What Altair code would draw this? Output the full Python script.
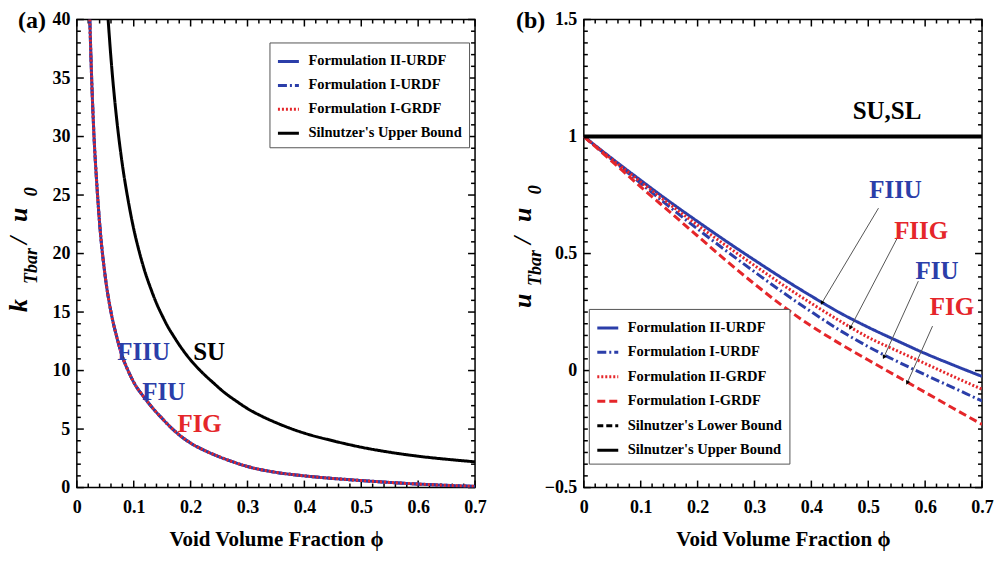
import altair as alt
import pandas as pd

FONT = "Liberation Serif"
BLUE = "#2b3ea9"
RED = "#e5262a"
BLACK = "#000000"
W, H = 399, 469

# ---------------- panel (a) data ----------------
phi_a_form = [0.0228, 0.026, 0.03, 0.035, 0.04, 0.05, 0.06, 0.07, 0.08, 0.09, 0.1, 0.12,
              0.15, 0.18, 0.2, 0.23, 0.26, 0.3, 0.35, 0.4, 0.45, 0.5, 0.55, 0.6, 0.65, 0.7]
k_fiiu = [40, 35, 30.2, 26, 22.6, 18.0, 15.0, 12.9, 11.2, 10.0, 9.0, 7.6,
          5.9, 4.5, 3.8, 3.05, 2.45, 1.8, 1.3, 1.0, 0.78, 0.6, 0.44, 0.3, 0.19, 0.1]
k_fiu = [40, 35, 30.2, 26, 22.6, 18.0, 15.0, 12.9, 11.2, 10.0, 9.0, 7.6,
         5.9, 4.5, 3.8, 3.05, 2.45, 1.8, 1.3, 1.0, 0.78, 0.6, 0.44, 0.3, 0.19, 0.1]
k_fig = [40, 35, 30.2, 26, 22.6, 18.0, 15.0, 12.9, 11.2, 10.0, 9.0, 7.6,
         5.9, 4.5, 3.8, 3.05, 2.45, 1.8, 1.3, 1.0, 0.78, 0.6, 0.44, 0.3, 0.19, 0.1]
phi_a_su = [0.055, 0.06, 0.065, 0.07, 0.08, 0.09, 0.1, 0.11, 0.12, 0.13, 0.14, 0.15, 0.16,
            0.17, 0.18, 0.2, 0.22, 0.24, 0.26, 0.28, 0.3, 0.325, 0.35, 0.4, 0.45, 0.5,
            0.55, 0.6, 0.65, 0.7]
k_su = [40, 36.7, 33.9, 31.5, 27.6, 24.6, 22.1, 20.1, 18.4, 17.0, 15.75, 14.7, 13.75,
        12.95, 12.2, 10.9, 9.85, 8.95, 8.1, 7.4, 6.75, 6.1, 5.55, 4.65, 4.0, 3.45,
        3.02, 2.68, 2.42, 2.2]

series_a = ["Formulation II-URDF", "Formulation I-URDF", "Formulation I-GRDF", "Silnutzer's Upper Bound"]

# ---------------- panel (b) data ----------------
phi_b = [0, 0.05, 0.1, 0.15, 0.2, 0.25, 0.3, 0.35, 0.4, 0.45, 0.5, 0.55, 0.6, 0.65, 0.7]
u_fiiu = [1, 0.905, 0.813, 0.723, 0.637, 0.553, 0.472, 0.393, 0.318, 0.247, 0.185, 0.128, 0.073, 0.023, -0.025]
u_fiu = [1, 0.9, 0.8, 0.701, 0.605, 0.512, 0.422, 0.334, 0.251, 0.172, 0.102, 0.040, -0.018, -0.074, -0.13]
u_fiig = [1, 0.902, 0.806, 0.712, 0.621, 0.534, 0.449, 0.366, 0.287, 0.212, 0.142, 0.085, 0.03, -0.026, -0.08]
u_fig = [1, 0.893, 0.785, 0.68, 0.575, 0.47, 0.37, 0.275, 0.19, 0.115, 0.045, -0.024, -0.093, -0.162, -0.23]
phi_b_bound = [0, 0.7]
u_sl = [1, 1]
u_su = [1, 1]

series_b = ["Formulation II-URDF", "Formulation I-URDF", "Formulation II-GRDF", "Formulation I-GRDF",
            "Silnutzer's Lower Bound", "Silnutzer's Upper Bound"]

# annotation labels (data coordinates)
lab_a_blue = ["FIIU", "FIU"]
lab_a_blue_x = [0.1175, 0.1527]
lab_a_blue_y = [11.6, 8.2]
lab_a_red = ["FIG"]
lab_a_red_x = [0.2158]
lab_a_red_y = [5.4]
lab_a_black = ["SU"]
lab_a_black_x = [0.2325]
lab_a_black_y = [11.6]

lab_b_blue = ["FIIU", "FIU"]
lab_b_blue_x = [0.548, 0.621]
lab_b_blue_y = [0.77, 0.424]
lab_b_red = ["FIIG", "FIG"]
lab_b_red_x = [0.593, 0.647]
lab_b_red_y = [0.595, 0.27]
lab_b_black = ["SU,SL"]
lab_b_black_x = [0.533]
lab_b_black_y = [1.107]

arr_x1 = [0.518, 0.551, 0.588, 0.613]
arr_y1 = [0.694, 0.566, 0.382, 0.19]
arr_x2 = [0.419, 0.469, 0.528, 0.569]
arr_y2 = [0.291, 0.185, 0.06, -0.05]

x_major = [0, 0.1, 0.2, 0.3, 0.4, 0.5, 0.6, 0.7]
x_minor = [round(i * 0.02, 2) for i in range(36) if i % 5 != 0]
ya_major = [0, 5, 10, 15, 20, 25, 30, 35, 40]
ya_minor = [i for i in range(41) if i % 5 != 0]
yb_major = [-0.5, 0, 0.5, 1, 1.5]
yb_minor = [round(-0.5 + i * 0.05, 2) for i in range(41) if i % 10 != 0]

X_DOM = [0, 0.7]
YA_DOM = [0, 40]
YB_DOM = [-0.5, 1.5]

# ---------------- frames ----------------
rows = []
for p, v in zip(phi_a_form, k_fiiu):
    rows.append({"phi": p, "val": v, "series": series_a[0]})
for p, v in zip(phi_a_form, k_fiu):
    rows.append({"phi": p, "val": v, "series": series_a[1]})
for p, v in zip(phi_a_form, k_fig):
    rows.append({"phi": p, "val": v, "series": series_a[2]})
for p, v in zip(phi_a_su, k_su):
    rows.append({"phi": p, "val": v, "series": series_a[3]})
df_a = pd.DataFrame(rows)

rows = []
for name, vals in zip(series_b[:4], [u_fiiu, u_fiu, u_fiig, u_fig]):
    for p, v in zip(phi_b, vals):
        rows.append({"phi": p, "val": v, "series": name})
for p, v in zip(phi_b_bound, u_sl):
    rows.append({"phi": p, "val": v, "series": series_b[4]})
for p, v in zip(phi_b_bound, u_su):
    rows.append({"phi": p, "val": v, "series": series_b[5]})
df_b = pd.DataFrame(rows)

xs = alt.Scale(domain=X_DOM, nice=False, zero=False)
ys_a = alt.Scale(domain=YA_DOM, nice=False, zero=False)
ys_b = alt.Scale(domain=YB_DOM, nice=False, zero=False)

cs_a = alt.Scale(domain=series_a, range=[BLUE, BLUE, RED, BLACK])
ds_a = alt.Scale(domain=series_a, range=[[1, 0], [9, 3, 2, 3], [2, 2], [1, 0]])
cs_b = alt.Scale(domain=series_b, range=[BLUE, BLUE, RED, RED, BLACK, BLACK])
ds_b = alt.Scale(domain=series_b, range=[[1, 0], [9, 3, 2, 3], [2, 2], [8, 4], [6, 3], [1, 0]])


def make_legend(lx, ly, rowpad):
    return alt.Legend(title=None, orient="none", legendX=lx, legendY=ly, direction="vertical",
                      fillColor="white", strokeColor="#555", padding=7, cornerRadius=0,
                      labelFont=FONT, labelFontSize=14.5, labelFontWeight="bold", labelColor="black",
                      labelOffset=8, labelLimit=400, symbolType="stroke", symbolSize=441,
                      symbolStrokeWidth=3, rowPadding=rowpad)


def line_layer(df, name, ys, cs, ds, leg, width=3):
    return alt.Chart(df).transform_filter(
        alt.FieldEqualPredicate(field="series", equal=name)
    ).mark_line(strokeWidth=width, clip=True, interpolate="monotone").encode(
        x=alt.X("phi:Q", scale=xs, axis=None),
        y=alt.Y("val:Q", scale=ys, axis=None),
        color=alt.Color("series:N", scale=cs, legend=leg),
        strokeDash=alt.StrokeDash("series:N", scale=ds, legend=leg),
        order=alt.Order("phi:Q"),
    )


dummy = pd.DataFrame({"phi": [0.0], "val": [0.0]})
TICK_W = 1.5


def main_axes(ys, y_major, yfmt):
    return alt.Chart(dummy).mark_point(opacity=0).encode(
        x=alt.X("phi:Q", scale=xs, axis=alt.Axis(
            orient="bottom", values=x_major, format="~g", labelFont=FONT, labelFontSize=18,
            labelFontWeight="bold", labelColor="black", labelPadding=11, labelFlush=False,
            ticks=False, tickSize=0, domain=False, grid=False,
            title="Void Volume Fraction ϕ", titleFont=FONT,
            titleFontSize=21, titleFontWeight="bold", titleColor="black", titlePadding=12)),
        y=alt.Y("val:Q", scale=ys, axis=alt.Axis(
            orient="left", values=y_major, format=yfmt, labelFont=FONT, labelFontSize=18,
            labelFontWeight="bold", labelColor="black", labelPadding=7, labelFlush=False,
            ticks=False, tickSize=0, domain=False, grid=False, title=None)),
    )


def tick_layers(ys, ydom, y_major, y_minor):
    """Inward tick marks on all four sides, as rule segments through the scales."""
    xpp = (X_DOM[1] - X_DOM[0]) / W      # data units per pixel
    ypp = (ydom[1] - ydom[0]) / H
    segs = []
    for vals, sz in [(x_major, 7), (x_minor, 4)]:
        for v in vals:
            segs.append({"x1": v, "x2": v, "y1": ydom[0], "y2": ydom[0] + sz * ypp})
            segs.append({"x1": v, "x2": v, "y1": ydom[1], "y2": ydom[1] - sz * ypp})
    for vals, sz in [(y_major, 7), (y_minor, 4)]:
        for v in vals:
            segs.append({"x1": X_DOM[0], "x2": X_DOM[0] + sz * xpp, "y1": v, "y2": v})
            segs.append({"x1": X_DOM[1], "x2": X_DOM[1] - sz * xpp, "y1": v, "y2": v})
    d = pd.DataFrame(segs)
    return alt.Chart(d).mark_rule(color="black", strokeWidth=TICK_W).encode(
        x=alt.X("x1:Q", scale=xs, axis=None), y=alt.Y("y1:Q", scale=ys, axis=None),
        x2="x2:Q", y2="y2:Q")


def label_layer(texts, lx, ly, ys, color, size=25):
    d = pd.DataFrame({"t": texts, "phi": lx, "val": ly})
    return alt.Chart(d).mark_text(font=FONT, fontSize=size, fontWeight="bold", color=color,
                                  align="center", baseline="middle").encode(
        x=alt.X("phi:Q", scale=xs, axis=None),
        y=alt.Y("val:Q", scale=ys, axis=None),
        text="t:N",
    )


def piece(txt, px, py, size, italic=True, angle=270):
    kw = dict(font=FONT, fontSize=size, fontWeight="bold", color="black",
              align="left", baseline="alphabetic")
    if italic:
        kw["fontStyle"] = "italic"
    if angle:
        kw["angle"] = angle
    return alt.Chart(pd.DataFrame({"t": [txt]})).mark_text(**kw).encode(
        x=alt.value(px), y=alt.value(py), text="t:N")


# ---------------- panel (a) ----------------
leg_a = make_legend(193, 23, 5)
layers_a = [main_axes(ys_a, ya_major, "d"), tick_layers(ys_a, YA_DOM, ya_major, ya_minor)]
layers_a += [line_layer(df_a, s, ys_a, cs_a, ds_a, leg_a) for s in series_a]
layers_a += [
    label_layer(lab_a_blue, lab_a_blue_x, lab_a_blue_y, ys_a, BLUE),
    label_layer(lab_a_red, lab_a_red_x, lab_a_red_y, ys_a, RED),
    label_layer(lab_a_black, lab_a_black_x, lab_a_black_y, ys_a, BLACK),
    piece("k", -50, 293, 26),
    piece("Tbar", -40, 265, 18),
    piece("/", -50, 225, 26),
    piece("u", -50, 203, 26),
    piece("0", -40, 177, 18),
    piece("(a)", -59, 9, 24, italic=False, angle=0),
]
chart_a = alt.layer(*layers_a).resolve_axis(x="independent", y="independent").properties(width=W, height=H)

# ---------------- panel (b) ----------------
leg_b = make_legend(5, 290, 5.5)
layers_b = [main_axes(ys_b, yb_major, "~g"), tick_layers(ys_b, YB_DOM, yb_major, yb_minor)]
order_b = [series_b[4], series_b[0], series_b[1], series_b[2], series_b[3]]
layers_b += [line_layer(df_b, s, ys_b, cs_b, ds_b, leg_b) for s in order_b]
layers_b += [line_layer(df_b, series_b[5], ys_b, cs_b, ds_b, leg_b, width=4)]
arr_df = pd.DataFrame({"x1": arr_x1, "y1": arr_y1, "x2": arr_x2, "y2": arr_y2})
layers_b += [
    alt.Chart(arr_df).mark_rule(color="#555555", strokeWidth=1).encode(
        x=alt.X("x1:Q", scale=xs, axis=None), y=alt.Y("y1:Q", scale=ys_b, axis=None),
        x2="x2:Q", y2="y2:Q"),
    alt.Chart(arr_df).mark_point(shape="triangle", filled=True, size=22, angle=207,
                                 color="black", opacity=1).encode(
        x=alt.X("x2:Q", scale=xs, axis=None), y=alt.Y("y2:Q", scale=ys_b, axis=None)),
    label_layer(lab_b_blue, lab_b_blue_x, lab_b_blue_y, ys_b, BLUE),
    label_layer(lab_b_red, lab_b_red_x, lab_b_red_y, ys_b, RED),
    label_layer(lab_b_black, lab_b_black_x, lab_b_black_y, ys_b, BLACK),
    piece("u", -53, 289, 26),
    piece("Tbar", -43, 267, 18),
    piece("/", -53, 225, 26),
    piece("u", -53, 203, 26),
    piece("0", -43, 175, 18),
    piece("(b)", -68, 9, 24, italic=False, angle=0),
]
chart_b = alt.layer(*layers_b).resolve_axis(x="independent", y="independent").properties(width=W, height=H)

chart = alt.hconcat(chart_a, chart_b, spacing=109, bounds="flush").resolve_scale(
    x="independent", y="independent", color="independent", strokeDash="independent"
).resolve_legend(color="independent", strokeDash="independent").properties(
    padding={"left": 5, "top": 8, "right": 0, "bottom": 0}, background="white"
).configure_view(stroke="black", strokeWidth=1.5)

chart.save("out.html", embed_options={"renderer": "svg", "actions": False})
